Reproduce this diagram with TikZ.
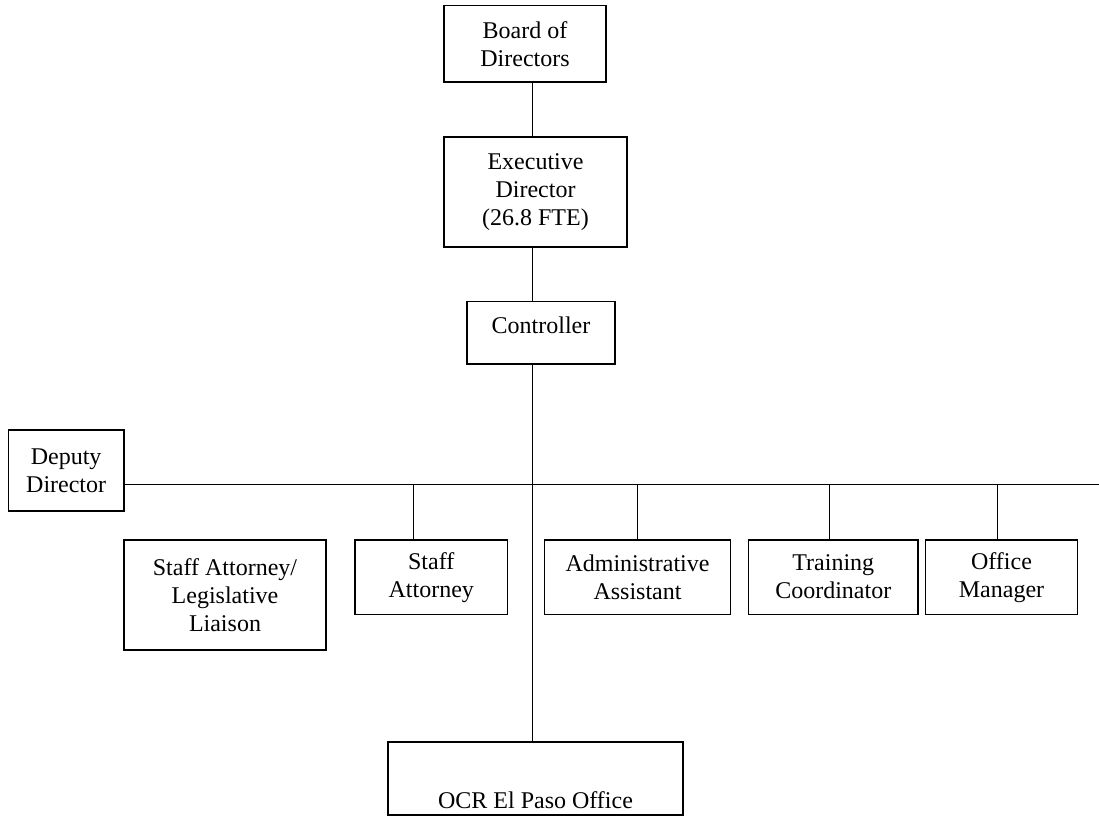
\documentclass[tikz,border=0pt]{standalone}
\usepackage{fontspec}
\setmainfont{Liberation Serif}
\begin{document}
\begin{tikzpicture}[x=0.75pt,y=-0.75pt,
  orgbox/.style={draw, line width=0.8pt, align=center, inner sep=0pt,
    font=\fontsize{18}{21}\selectfont},
  link/.style={line width=0.75pt}]
\useasboundingbox (0,0) rectangle (1099,815);
% boxes
\node[orgbox, minimum width=121.5pt, minimum height=57.4pt] (board) at (525,43.75) {Board of\\Directors};
\node[orgbox, minimum width=137.25pt, minimum height=82.5pt] (exec) at (535.5,192) {Executive\\Director\\(26.8 FTE)};
\node[orgbox, minimum width=111pt, text height=23.7pt, text depth=23pt] (ctrl) at (541,332.85) {Controller};
\node[orgbox, minimum width=86.8pt, minimum height=60.75pt] (deputy) at (66.15,470.5) {Deputy\\Director};
\node[orgbox, minimum width=151.5pt, minimum height=82.5pt] (sal) at (225,595) {Staff Attorney/\\Legislative\\Liaison};
\node[orgbox, minimum width=114.4pt, minimum height=55.7pt] (sa) at (431.25,577.15) {Staff\\Attorney};
\node[orgbox, minimum width=139.5pt, minimum height=55.7pt] (admin) at (637.5,577.15) {Administrative\\Assistant};
\node[orgbox, minimum width=127.1pt, minimum height=55.7pt] (train) at (833.25,577.15) {Training\\Coordinator};
\node[orgbox, minimum width=114pt, minimum height=55.7pt] (office) at (1001.5,577.15) {Office\\Manager};
\node[orgbox, minimum width=221.25pt, text height=49.5pt, text depth=5.25pt] (ocr) at (535.5,778.5) {OCR El Paso Office};
% junction coordinates
\coordinate (tx) at (532.7,0);
\coordinate (hr) at (1099,484);
\coordinate (j1) at (413.5,484);
\coordinate (j2) at (637.8,484);
\coordinate (j3) at (829.7,484);
\coordinate (j4) at (997,484);
% connectors
\draw[link] (tx |- board.south) -- (tx |- exec.north);
\draw[link] (tx |- exec.south) -- (tx |- ctrl.north);
\draw[link] (tx |- ctrl.south) -- (tx |- ocr.north);
\draw[link] (deputy.east |- hr) -- (hr);
\draw[link] (j1) -- (j1 |- sa.north);
\draw[link] (j2) -- (j2 |- admin.north);
\draw[link] (j3) -- (j3 |- train.north);
\draw[link] (j4) -- (j4 |- office.north);
\end{tikzpicture}
\end{document}
